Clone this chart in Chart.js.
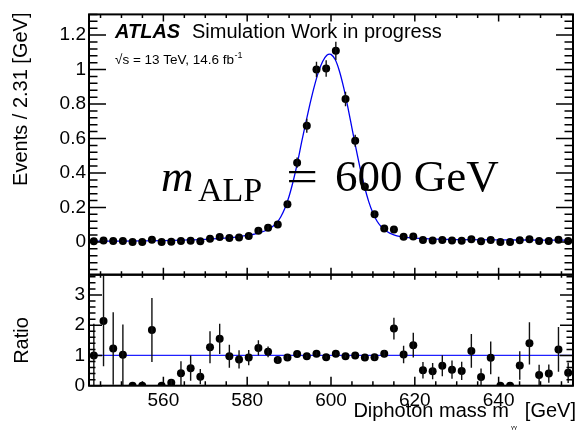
<!DOCTYPE html>
<html>
<head>
<meta charset="utf-8">
<title>ALP 600 GeV signal shape</title>
<script src="https://cdn.jsdelivr.net/npm/chart.js@4/dist/chart.umd.min.js"></script>
<style>
  body { margin: 0; background: #fff; }
  #wrap { position: relative; width: 577px; height: 430px; }
  #wrap canvas { position: absolute; left: 0; top: 0; }
</style>
</head>
<body>
<div id="wrap">
  <canvas id="ratioChart" width="577" height="430"></canvas>
  <canvas id="mainChart" width="577" height="430"></canvas>
</div>
<script>
// Histogram binning: 50 bins of 2.31 GeV around 600 GeV
const binLow = 542.25;
const binWidth = 2.31;
const nBins = 50;
const binHigh = binLow + binWidth * nBins;

// Signal MC: events per bin and stat. errors
const eventsPerBin = [
  0.004, 0.008, 0.005, 0.005, 0.000, 0.000, 0.013, 0.000, 0.001, 0.005,
  0.007, 0.004, 0.019, 0.028, 0.023, 0.026, 0.035, 0.065, 0.082, 0.101,
  0.218, 0.460, 0.674, 1.000, 1.006, 1.109, 0.829, 0.587, 0.320, 0.161,
  0.078, 0.072, 0.030, 0.032, 0.011, 0.009, 0.011, 0.008, 0.007, 0.016,
  0.004, 0.011, 0.000, 0.000, 0.010, 0.016, 0.006, 0.006, 0.013, 0.006
];
const eventsErr = [
  0.004, 0.006, 0.005, 0.005, 0.000, 0.000, 0.008, 0.000, 0.001, 0.005,
  0.005, 0.004, 0.008, 0.009, 0.009, 0.009, 0.010, 0.013, 0.013, 0.012,
  0.019, 0.030, 0.040, 0.045, 0.048, 0.053, 0.042, 0.035, 0.025, 0.017,
  0.009, 0.013, 0.008, 0.010, 0.006, 0.005, 0.006, 0.005, 0.004, 0.008,
  0.004, 0.006, 0.000, 0.000, 0.007, 0.008, 0.006, 0.005, 0.008, 0.005
];

// Ratio MC / fit and its errors
const ratioVals = [
  1.00, 2.14, 1.23, 1.02, 0.00, 0.00, 1.84, 0.00, 0.10, 0.41,
  0.58, 0.30, 1.27, 1.55, 0.97, 0.87, 0.93, 1.25, 1.12, 0.85,
  0.93, 1.05, 0.97, 1.06, 0.94, 1.06, 0.97, 1.00, 0.93, 0.94,
  1.06, 1.89, 1.03, 1.34, 0.51, 0.48, 0.66, 0.53, 0.49, 1.15,
  0.29, 0.92, 0.00, 0.00, 0.67, 1.40, 0.35, 0.40, 1.20, 0.43
];
const ratioErr = [
  1.05, 1.50, 1.20, 1.00, 0.00, 0.00, 1.06, 0.00, 0.10, 0.40,
  0.42, 0.25, 0.53, 0.50, 0.38, 0.30, 0.25, 0.25, 0.18, 0.10,
  0.08, 0.07, 0.06, 0.06, 0.05, 0.05, 0.05, 0.06, 0.07, 0.09,
  0.12, 0.36, 0.29, 0.41, 0.27, 0.27, 0.35, 0.30, 0.30, 0.56,
  0.28, 0.54, 0.00, 0.00, 0.47, 0.70, 0.34, 0.30, 0.74, 0.34
];

// Fitted signal shape, sampled along the mass axis
const fitMass = [
  542.25, 550, 560, 565, 570, 573, 576, 578, 580, 582,
  584, 585, 586, 587, 588, 589, 590, 591, 592, 593,
  594, 595, 596, 597, 598, 599, 599.7, 600, 601, 602,
  603, 604, 605, 606, 607, 608, 609, 610, 611, 612,
  613, 614, 615, 616, 618, 620, 625, 630, 640, 650, 657.75
];
const fitVals = [
  0.004, 0.005, 0.008, 0.011, 0.015, 0.019, 0.025, 0.031, 0.038, 0.047,
  0.062, 0.073, 0.088, 0.110, 0.145, 0.195, 0.265, 0.355, 0.460, 0.580,
  0.694, 0.802, 0.901, 0.985, 1.047, 1.083, 1.090, 1.088, 1.058, 0.992,
  0.898, 0.784, 0.661, 0.538, 0.422, 0.320, 0.234, 0.168, 0.120, 0.088,
  0.066, 0.051, 0.041, 0.034, 0.027, 0.022, 0.016, 0.014, 0.012, 0.011, 0.010
];

const xTickVals = [560, 580, 600, 620, 640];
const yTickVals = [0, 0.2, 0.4, 0.6, 0.8, 1, 1.2];
const ratioTickVals = [0, 1, 2, 3];

const binCenters = eventsPerBin.map((_, i) => binLow + binWidth * (i + 0.5));

const SANS = '"Liberation Sans", Arial, sans-serif';
const SERIF = '"Liberation Serif", "Times New Roman", serif';

// ROOT-like frame with inward ticks on all four sides
function frameTicks(opts) {
  return {
    id: 'frameTicks',
    afterDraw(chart) {
      const { ctx, chartArea: a } = chart;
      const xs = chart.scales.x, ys = chart.scales.y;
      ctx.save();
      ctx.strokeStyle = '#000';
      ctx.lineWidth = 1.5;
      ctx.beginPath();
      const k0 = Math.ceil(xs.min / opts.xMinor), k1 = Math.floor(xs.max / opts.xMinor);
      for (let k = k0; k <= k1; k++) {
        const v = k * opts.xMinor;
        const major = Math.abs(v / opts.xMajor - Math.round(v / opts.xMajor)) < 1e-6;
        const px = xs.getPixelForValue(v);
        const lt = major ? opts.xTop[0] : opts.xTop[1];
        const lb = major ? opts.xBottom[0] : opts.xBottom[1];
        ctx.moveTo(px, a.top); ctx.lineTo(px, a.top + lt);
        ctx.moveTo(px, a.bottom); ctx.lineTo(px, a.bottom - lb);
      }
      const j0 = Math.ceil(ys.min / opts.yMinor - 1e-6), j1 = Math.floor(ys.max / opts.yMinor + 1e-6);
      for (let j = j0; j <= j1; j++) {
        const v = j * opts.yMinor;
        const major = Math.abs(v / opts.yMajor - Math.round(v / opts.yMajor)) < 1e-6;
        const py = ys.getPixelForValue(v);
        const l = major ? opts.ySide[0] : opts.ySide[1];
        ctx.moveTo(a.left, py); ctx.lineTo(a.left + l, py);
        ctx.moveTo(a.right, py); ctx.lineTo(a.right - l, py);
      }
      ctx.stroke();
      ctx.lineWidth = 2;
      ctx.strokeRect(a.left, a.top, a.right - a.left, a.bottom - a.top);
      ctx.restore();
    }
  };
}

// vertical error bars for the marker dataset
function errorBars(datasetIndex, values, errors) {
  return {
    id: 'errorBars',
    afterDatasetsDraw(chart) {
      const { ctx, chartArea: a } = chart;
      const ys = chart.scales.y;
      const pts = chart.getDatasetMeta(datasetIndex).data;
      ctx.save();
      ctx.beginPath();
      ctx.rect(a.left, a.top, a.right - a.left, a.bottom - a.top);
      ctx.clip();
      ctx.strokeStyle = '#111';
      ctx.lineWidth = 1.4;
      ctx.beginPath();
      pts.forEach((p, i) => {
        if (!errors[i]) return;
        ctx.moveTo(p.x, ys.getPixelForValue(values[i] + errors[i]));
        ctx.lineTo(p.x, ys.getPixelForValue(values[i] - errors[i]));
      });
      ctx.stroke();
      ctx.restore();
    }
  };
}

const fixedTicks = vals => axis => { axis.ticks = vals.map(v => ({ value: v })); };
const tickFont = { family: SANS, size: 19 };

// ---- upper panel: events per bin with fit ----
const labelsPlugin = {
  id: 'labels',
  afterDraw(chart) {
    const ctx = chart.ctx;
    ctx.save();
    ctx.fillStyle = '#000';
    ctx.textBaseline = 'alphabetic';

    ctx.font = 'italic bold 20px ' + SANS;
    ctx.fillText('ATLAS', 115, 38);
    ctx.font = '20px ' + SANS;
    ctx.fillText('Simulation Work in progress', 192, 38);

    ctx.font = '13.5px ' + SANS;
    const lumi = '\u221As = 13 TeV, 14.6 fb';
    ctx.fillText(lumi, 115, 64);
    const w = ctx.measureText(lumi).width;
    ctx.font = '9px ' + SANS;
    ctx.fillText('-1', 115 + w + 0.5, 58);

    // m_ALP = 600 GeV
    ctx.font = 'italic 45px ' + SERIF;
    ctx.fillText('m', 161, 191);
    ctx.font = '34px ' + SERIF;
    ctx.fillText('ALP', 198, 201);
    ctx.font = '45px ' + SERIF;
    ctx.save();
    ctx.translate(302, 191);
    ctx.scale(1.25, 1);
    ctx.textAlign = 'center';
    ctx.fillText('=', 0, 0);
    ctx.restore();
    ctx.fillText('600 GeV', 335, 191);

    // y axis title
    ctx.font = '20px ' + SANS;
    ctx.save();
    ctx.translate(27, 12.5);
    ctx.rotate(-Math.PI / 2);
    ctx.textAlign = 'right';
    ctx.fillText('Events / 2.31 [GeV]', 0, 0);
    ctx.restore();
    ctx.restore();
  }
};

new Chart(document.getElementById('mainChart'), {
  type: 'scatter',
  data: {
    datasets: [
      {
        data: binCenters.map((x, i) => ({ x, y: eventsPerBin[i] })),
        backgroundColor: '#000',
        borderWidth: 0,
        pointRadius: 4,
        order: 0
      },
      {
        data: fitMass.map((x, i) => ({ x, y: fitVals[i] })),
        showLine: true,
        borderColor: '#0000f0',
        borderWidth: 1.3,
        pointRadius: 0,
        cubicInterpolationMode: 'monotone',
        order: 1
      }
    ]
  },
  options: {
    responsive: false,
    animation: false,
    devicePixelRatio: 1,
    layout: { padding: { left: 0, right: 1, top: 12, bottom: 155.3 } },
    plugins: { legend: { display: false }, tooltip: { enabled: false } },
    scales: {
      x: { type: 'linear', display: false, min: binLow, max: binHigh },
      y: {
        min: -0.19, max: 1.32,
        afterBuildTicks: fixedTicks(yTickVals),
        afterFit: s => { s.width = 89; },
        grid: { display: false, drawTicks: false },
        border: { display: false },
        ticks: { font: tickFont, color: '#000', padding: 3, callback: v => String(+v.toFixed(1)) }
      }
    }
  },
  plugins: [
    errorBars(0, eventsPerBin, eventsErr),
    frameTicks({ xMajor: 20, xMinor: 5, yMajor: 0.2, yMinor: 0.04,
                 xTop: [7, 3.5], xBottom: [7, 3.5], ySide: [17, 8.5] }),
    labelsPlugin
  ]
});

// ---- lower panel: ratio ----
const ratioLabels = {
  id: 'ratioLabels',
  afterDraw(chart) {
    const ctx = chart.ctx;
    ctx.save();
    ctx.fillStyle = '#000';
    ctx.font = '20px ' + SANS;
    ctx.save();
    ctx.translate(28, 340.5);
    ctx.rotate(-Math.PI / 2);
    ctx.textAlign = 'center';
    ctx.fillText('Ratio', 0, 0);
    ctx.restore();

    // x axis title with (tiny) gamma-gamma subscript
    ctx.textAlign = 'right';
    ctx.fillText('[GeV]', 576, 416.7);
    ctx.fillText('Diphoton mass m', 509, 416.7);
    ctx.textAlign = 'left';
    ctx.font = '6px ' + SANS;
    ctx.fillText('\u03B3\u03B3', 511, 429);
    ctx.restore();
  }
};

new Chart(document.getElementById('ratioChart'), {
  type: 'scatter',
  data: {
    datasets: [
      {
        data: binCenters.map((x, i) => ({ x, y: ratioVals[i] })),
        backgroundColor: '#000',
        borderWidth: 0,
        pointRadius: 4,
        clip: 0,
        order: 0
      },
      {
        data: [{ x: binLow, y: 1 }, { x: binHigh, y: 1 }],
        showLine: true,
        borderColor: '#2020ff',
        borderWidth: 1.2,
        pointRadius: 0,
        order: 1
      }
    ]
  },
  options: {
    responsive: false,
    animation: false,
    devicePixelRatio: 1,
    layout: { padding: { left: 0, right: 1, top: 274.7, bottom: 0 } },
    plugins: { legend: { display: false }, tooltip: { enabled: false } },
    scales: {
      x: {
        type: 'linear', min: binLow, max: binHigh,
        afterBuildTicks: fixedTicks(xTickVals),
        afterFit: s => { s.height = 44.3; },
        grid: { display: false, drawTicks: false },
        border: { display: false },
        ticks: { font: tickFont, color: '#000', padding: 4, maxRotation: 0 }
      },
      y: {
        min: 0, max: 3.67,
        afterBuildTicks: fixedTicks(ratioTickVals),
        afterFit: s => { s.width = 89; },
        grid: { display: false, drawTicks: false },
        border: { display: false },
        ticks: { font: tickFont, color: '#000', padding: 4 }
      }
    }
  },
  plugins: [
    errorBars(0, ratioVals, ratioErr),
    frameTicks({ xMajor: 20, xMinor: 5, yMajor: 1, yMinor: 0.2,
                 xTop: [5, 3], xBottom: [9, 4.5], ySide: [13, 6.5] }),
    ratioLabels
  ]
});
</script>
</body>
</html>
